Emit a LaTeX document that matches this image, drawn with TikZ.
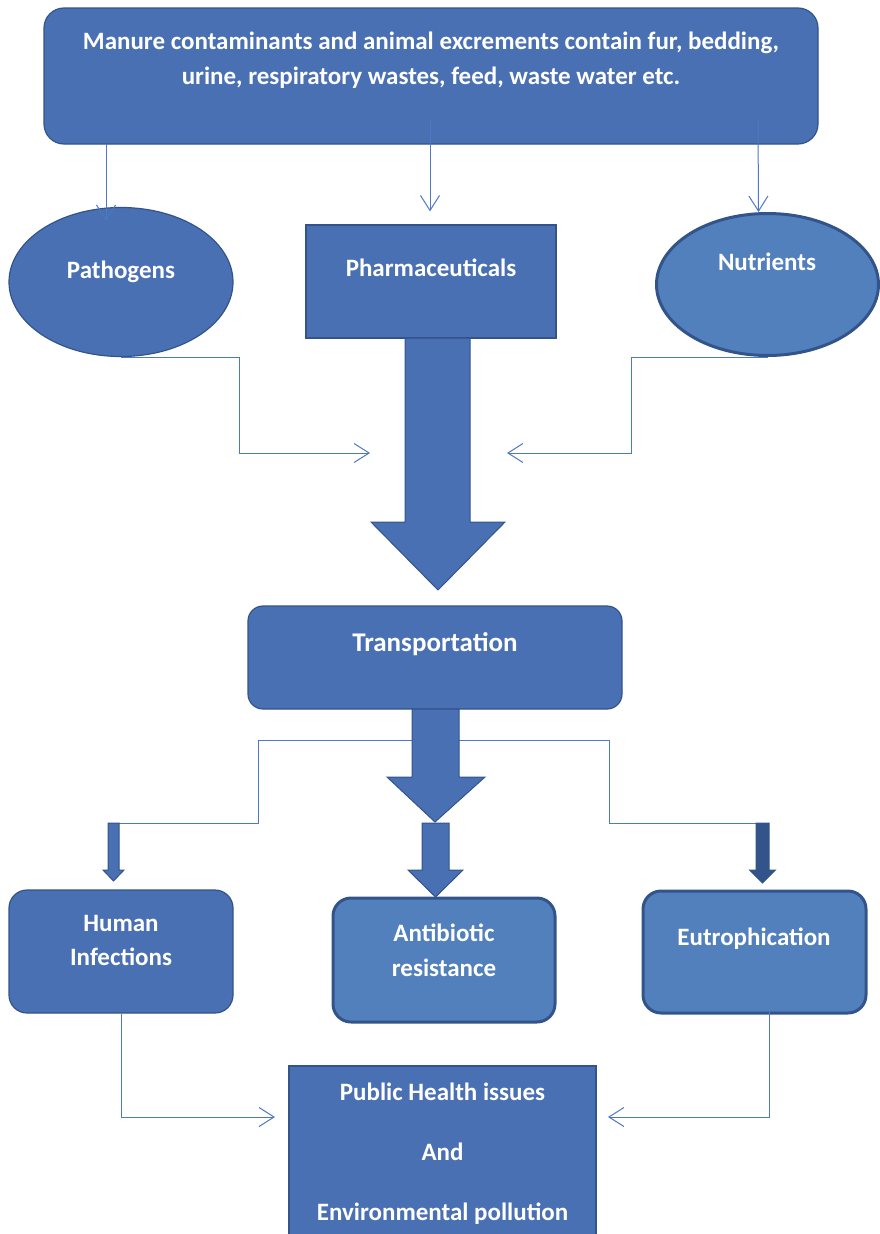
\documentclass[tikz,border=0pt]{standalone}
\usepackage{fontspec}
\setmainfont{Carlito}
\usetikzlibrary{arrows.meta,shapes.geometric}
\definecolor{boxblue}{RGB}{74,112,180}
\definecolor{lightblue}{RGB}{81,128,188}
\definecolor{edgeblue}{RGB}{50,84,138}
\definecolor{lineblue}{RGB}{76,120,196}

\begin{document}
\begin{tikzpicture}[x=1pt,y=-1pt,
    box/.style={draw=edgeblue, line width=1.2pt, fill=boxblue, inner sep=0pt},
    lightbox/.style={draw=edgeblue, line width=3pt, fill=lightblue, inner sep=0pt},
    txt/.style={text=white, font=\fontsize{25}{34.5}\selectfont\bfseries, align=center},
    link/.style={draw=lineblue, line width=1pt, -{Straight Barb[length=15pt,width=19pt]}},
    branch/.style={draw=lineblue, line width=1pt},
    block/.style={fill=boxblue, draw=edgeblue, line width=1pt, line join=miter}]
  \useasboundingbox (0,0) rectangle (880,1234);

  % source box
  \node[box, rounded corners=20pt, minimum width=774pt, minimum height=136pt] (src) at (431,76) {};
  \node[txt] (srctxt) at (431,60) {Manure contaminants and animal excrements contain fur, bedding,\\urine, respiratory wastes, feed, waste water etc.};

  % contaminants
  \node[box, ellipse, minimum width=224pt, minimum height=149pt] (path) at (121,282) {};
  \node[txt] at (121,272) {Pathogens};
  \node[box, minimum width=250pt, minimum height=113pt] (pharm) at (431,281.5) {};
  \node[txt] at (431,268) {Pharmaceuticals};
  \node[lightbox, ellipse, minimum width=222pt, minimum height=142pt] (nutr) at (767.5,284.5) {};
  \node[txt] at (767,262) {Nutrients};

  \draw[link] (106,144) -- ([xshift=-15pt,yshift=-14pt]path.north);
  \draw[link] (430,120) -- ([xshift=-1pt,yshift=13pt]pharm.north);
  \draw[link] (758,120) -- ([xshift=-9pt]nutr.north);

  \coordinate (inL) at (370,453);
  \coordinate (inR) at (507,453);
  \draw[link] (path.south) -| (239,453) -- (inL);
  \draw[link] (nutr.south) -| (631,453) -- (inR);

  \draw[block] (405,338) -- (405,522) -- (371,522) -- (438,590) -- (505,522) -- (470,522) -- (470,338) -- cycle;

  % transport
  \node[box, rounded corners=15pt, minimum width=374pt, minimum height=103pt] (trans) at (435,657.5) {};
  \node[txt, font=\fontsize{27}{32}\selectfont\bfseries] at (435,644) {Transportation};

  \draw[branch] (435,740) -| (258,823) -- (108,823);
  \draw[branch] (435,740) -| (609,823) -- (756,823);
  \draw[block] (412,709) -- (412,777) -- (387,777) -- (435,822) -- (485,777) -- (459,777) -- (459,709) -- cycle;

  \foreach \cx/\hs/\hh/\tip/\col in {113.5/5.5/10.5/881/boxblue, 435.5/13.5/27.5/897/boxblue, 762.5/6.5/13/883/edgeblue}
    \draw[block, fill=\col] (\cx-\hs,823) -- (\cx-\hs,870) -- (\cx-\hh,870) -- (\cx,\tip)
      -- (\cx+\hh,870) -- (\cx+\hs,870) -- (\cx+\hs,823) -- cycle;

  % effects
  \node[box, rounded corners=18pt, minimum width=224pt, minimum height=123pt] (hum) at (121,951.5) {};
  \node[txt] at (121,940.5) {Human\\Infections};
  \node[lightbox, rounded corners=18pt, minimum width=222pt, minimum height=124pt] (anti) at (444,960) {};
  \node[txt] at (444,950.5) {Antibiotic\\resistance};
  \node[lightbox, rounded corners=18pt, minimum width=223pt, minimum height=122pt] (eutro) at (754.5,952) {};
  \node[txt] at (754,939) {Eutrophication};

  \node[box, minimum width=307pt, minimum height=190pt] (pub) at (442.5,1161) {};
  \node[txt, font=\fontsize{25}{60}\selectfont\bfseries] at (442.5,1154) {Public Health issues\\And\\Environmental pollution};

  \coordinate (outL) at (275,1117);
  \coordinate (outR) at (608,1117);
  \draw[link] (hum.south) |- (outL);
  \draw[link] ([yshift=4pt,xshift=15pt]eutro.south) |- (outR);
\end{tikzpicture}
\end{document}
